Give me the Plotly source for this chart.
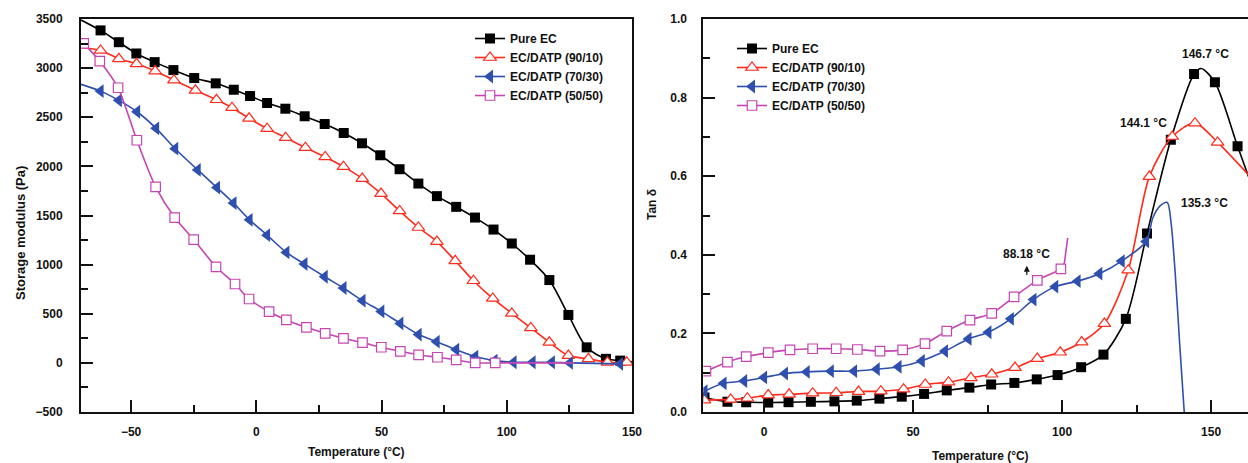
import plotly.graph_objects as go

# ---------------- Storage modulus vs temperature ----------------
pure_T = [-62.2, -54.9, -47.9, -40.6, -33.1, -24.8, -16.2, -9.0, -2.5, 4.3, 11.6, 19.3, 27.3, 34.9,
          42.2, 49.5, 57.2, 64.7, 72.1, 79.8, 87.3, 94.7, 102.0, 109.3, 117.0, 124.6, 131.9, 139.6, 145.3]
pure_E = [3384, 3264, 3149, 3061, 2980, 2899, 2845, 2780, 2716, 2645, 2587, 2510, 2431, 2340,
          2235, 2113, 1971, 1825, 1697, 1588, 1479, 1357, 1215, 1050, 843, 488, 158, 41, 23]
pure_curve_T = [-70.0, 150.0]
pure_curve_E = [3490, 10]

ec90_T = [-62.2, -54.9, -47.8, -40.4, -32.9, -24.3, -15.9, -9.7, -2.9, 4.3, 11.7, 19.6, 27.5, 34.8,
          42.3, 49.8, 57.2, 64.7, 72.1, 79.4, 86.7, 94.4, 102.0, 109.6, 117.0, 124.6, 132.6, 140.2, 147.9]
ec90_E = [3180, 3095, 3044, 2970, 2878, 2774, 2678, 2597, 2489, 2384, 2292, 2190, 2096, 1997,
          1876, 1723, 1547, 1378, 1235, 1039, 836, 656, 504, 356, 209, 74, 41, 6, 6]
ec90_curve_T = [-70.0]
ec90_curve_E = [3207]

ec70_T = [-62.2, -54.9, -47.6, -40.0, -32.4, -23.4, -15.7, -9.1, -2.7, 4.3, 12.0, 19.2, 27.3, 34.8,
          42.4, 49.9, 57.5, 64.8, 72.0, 79.8, 87.4, 95.1, 102.7, 110.3, 118.0, 125.2, 145.2]
ec70_E = [2766, 2672, 2556, 2387, 2180, 1964, 1784, 1626, 1456, 1300, 1124, 1006, 877, 762,
          633, 524, 402, 288, 216, 135, 64, 23, 6, 6, 6, 0, -10]
ec70_curve_T = [-70.0]
ec70_curve_E = [2835]

ec50_T = [-68.9, -62.5, -55.2, -47.7, -40.2, -32.6, -25.0, -16.1, -8.5, -2.9, 5.1, 12.0, 20.0,
          27.5, 34.8, 42.4, 49.9, 57.5, 64.8, 72.3, 79.8, 87.4, 95.4]
ec50_E = [3251, 3071, 2800, 2266, 1791, 1479, 1255, 978, 803, 650, 521, 437, 362,
          301, 250, 206, 159, 118, 81, 57, 30, 0, 0]
ec50_curve_T = [-70.0, 127.0]
ec50_curve_E = [3280, 0]

# ---------------- Tan delta vs temperature ----------------
pure_T2 = [-20.0, -12.3, -6.0, 1.4, 8.2, 15.7, 23.6, 31.1, 38.7, 46.2, 53.7, 61.3, 68.9, 76.2,
           84.0, 91.5, 98.5, 106.4, 113.9, 121.4, 128.5, 136.5, 144.3, 151.3, 158.9]
pure_D = [0.037, 0.026, 0.025, 0.024, 0.025, 0.026, 0.027, 0.029, 0.034, 0.039, 0.046, 0.055, 0.062, 0.070,
          0.074, 0.083, 0.094, 0.114, 0.146, 0.237, 0.454, 0.693, 0.860, 0.839, 0.676]
pure_curve_T2 = [146.7, 163.0]
pure_curve_D = [0.874, 0.59]

ec90_T2 = [-20.0, -11.2, -5.6, 1.4, 8.4, 16.3, 24.2, 31.7, 39.2, 46.8, 54.1, 61.9, 69.4, 76.4,
           84.2, 91.7, 99.4, 106.6, 114.2, 122.2, 129.3, 137.0, 144.6, 152.2]
ec90_D = [0.030, 0.032, 0.035, 0.043, 0.045, 0.048, 0.049, 0.052, 0.053, 0.058, 0.070, 0.076, 0.087, 0.096,
          0.113, 0.136, 0.152, 0.178, 0.225, 0.361, 0.599, 0.701, 0.735, 0.686]
ec90_curve_T2 = [163.0]
ec90_curve_D = [0.60]

ec70_T2 = [-20.0, -13.6, -6.7, 0.0, 7.0, 14.3, 22.4, 30.2, 37.8, 45.1, 52.9, 60.7, 68.6, 75.3,
           82.8, 90.4, 97.7, 105.2, 112.5, 120.0, 128.2]
ec70_D = [0.053, 0.073, 0.079, 0.088, 0.098, 0.102, 0.104, 0.104, 0.109, 0.115, 0.130, 0.155, 0.186, 0.203,
          0.237, 0.286, 0.319, 0.333, 0.352, 0.384, 0.434]
ec70_curve_T2 = [130.5, 133.0, 135.3, 136.6, 138.0, 139.5, 141.0, 141.4]
ec70_curve_D = [0.495, 0.525, 0.533, 0.480, 0.350, 0.170, 0.000, -0.050]

ec50_T2 = [-19.5, -12.3, -6.0, 1.4, 8.7, 16.3, 24.2, 31.3, 38.9, 46.5, 54.0, 61.3, 69.1, 76.4,
           83.9, 91.7, 99.6]
ec50_D = [0.104, 0.127, 0.141, 0.151, 0.158, 0.161, 0.161, 0.159, 0.155, 0.158, 0.174, 0.206, 0.234, 0.251,
          0.293, 0.335, 0.364]
ec50_curve_T2 = [-20.4, 100.6, 101.3, 101.9]
ec50_curve_D = [0.102, 0.375, 0.410, 0.443]

series_names = ["Pure EC", "EC/DATP (90/10)", "EC/DATP (70/30)", "EC/DATP (50/50)"]

tg_labels = ["146.7 °C", "144.1 °C", "135.3 °C", "88.18 °C"]
tg_label_T = [148.0, 127.3, 147.7, 88.18]
tg_label_D = [0.911, 0.735, 0.533, 0.403]

# ---------------- styling ----------------
W, H = 1248, 463
TOP, BOTTOM = 19, 412
FONT = "Liberation Sans, Arial, Helvetica, sans-serif"
AXC = "#111111"

styles = [
    dict(color="#000000", symbol="square", fill="#000000", size=10, lw=0),
    dict(color="#ff2b1c", symbol="triangle-up", fill="#ffffff", size=11, lw=1.2),
    dict(color="#2e4fae", symbol="triangle-left", fill="#2e4fae", size=12, lw=0),
    dict(color="#c645b4", symbol="square", fill="#ffffff", size=9.5, lw=1.2),
]


def px_x(p):
    return p / W


def px_y(p):
    return (BOTTOM - p) / (BOTTOM - TOP)


def merged(tm, vm, tc, vc):
    pts = sorted(zip(list(tm) + list(tc), list(vm) + list(vc)))
    return [p[0] for p in pts], [p[1] for p in pts]


fig = go.Figure()

panels = [
    ("x", "y", "legend",
     [(pure_T, pure_E, pure_curve_T, pure_curve_E),
      (ec90_T, ec90_E, ec90_curve_T, ec90_curve_E),
      (ec70_T, ec70_E, ec70_curve_T, ec70_curve_E),
      (ec50_T, ec50_E, ec50_curve_T, ec50_curve_E)]),
    ("x2", "y2", "legend2",
     [(pure_T2, pure_D, pure_curve_T2, pure_curve_D),
      (ec90_T2, ec90_D, ec90_curve_T2, ec90_curve_D),
      (ec70_T2, ec70_D, ec70_curve_T2, ec70_curve_D),
      (ec50_T2, ec50_D, ec50_curve_T2, ec50_curve_D)]),
]

for xa, ya, leg, data in panels:
    for name, st, (tm, vm, tc, vc) in zip(series_names, styles, data):
        lx, ly = merged(tm, vm, tc, vc)
        fig.add_trace(go.Scatter(
            x=lx, y=ly, mode="lines", xaxis=xa, yaxis=ya, showlegend=False,
            line=dict(color=st["color"], width=1.6, shape="spline", smoothing=0.8),
            hoverinfo="skip"))
        fig.add_trace(go.Scatter(
            x=tm, y=vm, mode="markers", xaxis=xa, yaxis=ya, showlegend=False, name=name,
            marker=dict(symbol=st["symbol"], size=st["size"], color=st["fill"],
                        line=dict(color=st["color"], width=st["lw"]))))
        # legend-only entry combining line and marker
        fig.add_trace(go.Scatter(
            x=[None], y=[None], mode="lines+markers", xaxis=xa, yaxis=ya, name=name,
            legend=leg, showlegend=True,
            line=dict(color=st["color"], width=1.6),
            marker=dict(symbol=st["symbol"], size=st["size"], color=st["fill"],
                        line=dict(color=st["color"], width=st["lw"]))))

tickfont = dict(family=FONT, size=12, color="#111111", weight="bold")
common_axis = dict(showline=True, linecolor=AXC, linewidth=2, ticks="inside", tickcolor=AXC,
                   tickwidth=2, ticklen=12, showgrid=False, zeroline=False, tickfont=tickfont,
                   automargin=False)

legend_font = dict(family=FONT, size=12, color="#111111", weight="bold")

fig.update_layout(
    width=W, height=H,
    margin=dict(l=0, r=0, t=TOP, b=H - BOTTOM),
    paper_bgcolor="white", plot_bgcolor="white",
    xaxis=dict(common_axis, domain=[px_x(81), px_x(632)], range=[-70, 150], dtick=50, tick0=0,
               mirror=True, ticklabelstandoff=8,
               minor=dict(dtick=25, tick0=0, ticks="inside", ticklen=7, tickcolor=AXC, tickwidth=2)),
    yaxis=dict(common_axis, range=[-500, 3500], dtick=500, mirror=True, ticklabelstandoff=14,
               minor=dict(dtick=250, ticks="inside", ticklen=7, tickcolor=AXC, tickwidth=2)),
    xaxis2=dict(common_axis, domain=[px_x(703.3), 1.0], range=[-20.4, 162.4], dtick=50, tick0=0,
                mirror=True, anchor="y2", ticklabelstandoff=8,
                minor=dict(dtick=25, tick0=0, ticks="inside", ticklen=7, tickcolor=AXC, tickwidth=2)),
    yaxis2=dict(common_axis, range=[0, 1.0], dtick=0.2, tickformat=".1f", anchor="x2",
                mirror=False, ticklabelstandoff=12,
                minor=dict(dtick=0.1, ticks="inside", ticklen=7, tickcolor=AXC, tickwidth=2)),
    legend=dict(x=px_x(470), y=px_y(24), xanchor="left", yanchor="top", bgcolor="rgba(0,0,0,0)",
                font=legend_font, borderwidth=0),
    legend2=dict(x=px_x(732), y=px_y(34), xanchor="left", yanchor="top", bgcolor="rgba(0,0,0,0)",
                 font=legend_font, borderwidth=0),
    showlegend=True,
)

title_font = dict(family=FONT, size=12, color="#111111", weight="bold")


def label(text, x, y, **kw):
    d = dict(text=text, x=x, y=y, xref="paper", yref="paper", xanchor="center",
             yanchor="middle", showarrow=False, font=title_font)
    d.update(kw)
    return d


annotations = [
    label("Temperature (°C)", px_x(356), px_y(452)),
    label("Temperature (°C)", px_x(980), px_y(456)),
    label("Storage modulus (Pa)", px_x(20), px_y(233), textangle=-90, font=dict(title_font, size=13)),
    label("Tan δ", px_x(652), px_y(205), textangle=-90),
]
for txt, tx, ty in zip(tg_labels, tg_label_T, tg_label_D):
    annotations.append(dict(text=txt, x=tx, y=ty, xref="x2", yref="y2", showarrow=False,
                            xanchor="center", yanchor="middle", font=title_font))
# small arrow under the 88.18 °C label
annotations.append(dict(text="", x=tg_label_T[3], y=0.372, ax=tg_label_T[3], ay=0.345,
                        xref="x2", yref="y2", axref="x2", ayref="y2", showarrow=True,
                        arrowhead=2, arrowsize=1, arrowwidth=1.2, arrowcolor="#111111"))
fig.update_layout(annotations=annotations)

fig.write_html("out.html")
